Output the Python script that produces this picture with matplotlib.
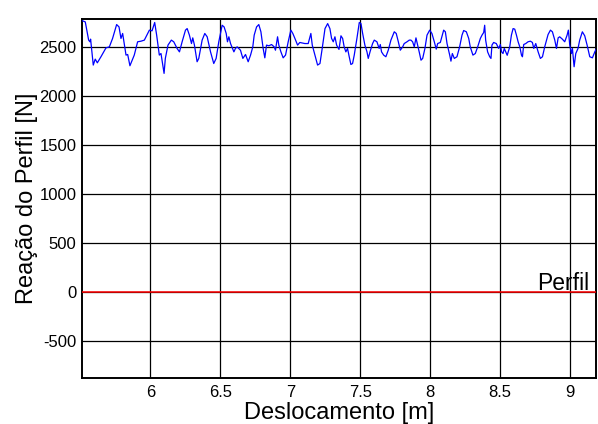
import matplotlib
matplotlib.use("Agg")
import matplotlib.pyplot as plt

plt.rcParams['font.family'] = ['Liberation Sans', 'DejaVu Sans']
plt.rcParams['axes.unicode_minus'] = False

# displacement [m] and profile reaction [N]
deslocamento = [
    5.511, 5.535, 5.559, 5.568, 5.573, 5.582, 5.592, 5.606, 5.621, 5.647,
    5.683, 5.707, 5.730, 5.759, 5.776, 5.790, 5.802, 5.826, 5.838, 5.854,
    5.885, 5.909, 5.933, 5.957, 5.981, 5.993, 6.012, 6.031, 6.045, 6.064,
    6.076, 6.098, 6.107, 6.126, 6.150, 6.167, 6.191, 6.208, 6.227, 6.251,
    6.263, 6.279, 6.294, 6.303, 6.315, 6.334, 6.346, 6.370, 6.389, 6.406,
    6.430, 6.453, 6.470, 6.489, 6.513, 6.527, 6.542, 6.551, 6.561, 6.573,
    6.597, 6.608, 6.620, 6.644, 6.661, 6.680, 6.699, 6.716, 6.732, 6.742,
    6.759, 6.775, 6.790, 6.806, 6.818, 6.830, 6.847, 6.866, 6.885, 6.894,
    6.909, 6.918, 6.933, 6.949, 6.966, 6.985, 7.004, 7.018, 7.033, 7.052,
    7.068, 7.104, 7.128, 7.147, 7.157, 7.176, 7.195, 7.212, 7.228, 7.248,
    7.267, 7.283, 7.295, 7.307, 7.319, 7.331, 7.348, 7.362, 7.374, 7.385,
    7.397, 7.409, 7.421, 7.433, 7.445, 7.457, 7.476, 7.493, 7.505, 7.517,
    7.533, 7.548, 7.557, 7.571, 7.588, 7.600, 7.619, 7.635, 7.643, 7.652,
    7.667, 7.683, 7.700, 7.719, 7.743, 7.757, 7.772, 7.786, 7.803, 7.814,
    7.834, 7.850, 7.862, 7.874, 7.886, 7.898, 7.910, 7.921, 7.934, 7.946,
    7.962, 7.977, 7.996, 8.012, 8.029, 8.043, 8.053, 8.072, 8.096, 8.108,
    8.120, 8.139, 8.148, 8.158, 8.172, 8.191, 8.210, 8.227, 8.239, 8.258,
    8.275, 8.286, 8.305, 8.322, 8.339, 8.358, 8.370, 8.382, 8.389, 8.396,
    8.410, 8.425, 8.434, 8.441, 8.453, 8.472, 8.489, 8.501, 8.510, 8.520,
    8.529, 8.550, 8.568, 8.580, 8.592, 8.604, 8.616, 8.628, 8.640, 8.652,
    8.659, 8.668, 8.683, 8.699, 8.716, 8.730, 8.740, 8.754, 8.771, 8.787,
    8.802, 8.818, 8.842, 8.859, 8.873, 8.890, 8.902, 8.914, 8.925, 8.944,
    8.961, 8.978, 8.987, 8.997, 9.009, 9.016, 9.028, 9.040, 9.056, 9.068,
    9.087, 9.104, 9.121, 9.140, 9.159, 9.176, 9.188,
]
reacao = [
    2775, 2761, 2575, 2558, 2585, 2455, 2320, 2381, 2343, 2405,
    2496, 2506, 2592, 2734, 2710, 2592, 2643, 2422, 2428, 2313,
    2422, 2558, 2564, 2575, 2643, 2677, 2670, 2755, 2626, 2422,
    2438, 2235, 2388, 2524, 2575, 2558, 2490, 2455, 2558, 2677,
    2693, 2626, 2540, 2598, 2524, 2354, 2388, 2575, 2643, 2609,
    2455, 2336, 2388, 2558, 2727, 2710, 2643, 2558, 2609, 2540,
    2455, 2490, 2506, 2472, 2388, 2428, 2354, 2422, 2506, 2626,
    2710, 2734, 2660, 2490, 2394, 2524, 2517, 2530, 2506, 2472,
    2609, 2524, 2455, 2394, 2422, 2558, 2677, 2643, 2592, 2524,
    2551, 2540, 2540, 2643, 2524, 2422, 2320, 2336, 2490, 2693,
    2744, 2693, 2592, 2558, 2609, 2524, 2480, 2619, 2592, 2506,
    2455, 2490, 2405, 2326, 2336, 2422, 2592, 2755, 2744, 2643,
    2524, 2455, 2388, 2462, 2540, 2575, 2558, 2490, 2530, 2455,
    2422, 2405, 2472, 2575, 2660, 2643, 2558, 2472, 2506, 2540,
    2558, 2575, 2575, 2558, 2506, 2598, 2524, 2455, 2370, 2388,
    2490, 2626, 2677, 2643, 2558, 2483, 2540, 2551, 2677, 2660,
    2540, 2422, 2360, 2438, 2388, 2405, 2506, 2626, 2673, 2660,
    2592, 2506, 2422, 2438, 2506, 2592, 2626, 2653, 2727, 2575,
    2455, 2405, 2388, 2524, 2551, 2540, 2490, 2530, 2455, 2438,
    2490, 2420, 2506, 2626, 2693, 2687, 2626, 2558, 2506, 2422,
    2405, 2530, 2540, 2558, 2564, 2551, 2490, 2540, 2455, 2388,
    2405, 2506, 2632, 2677, 2660, 2575, 2490, 2598, 2609, 2585,
    2558, 2626, 2677, 2524, 2438, 2490, 2303, 2438, 2490, 2575,
    2660, 2619, 2524, 2405, 2394, 2455, 2490,
]
perfil_x = [5.511, 9.186]
perfil_y = [0, 0]

x_ticks = [6, 6.5, 7, 7.5, 8, 8.5, 9]
x_labels = ["6", "6.5", "7", "7.5", "8", "8.5", "9"]
y_ticks = [-500, 0, 500, 1000, 1500, 2000, 2500]

fig = plt.figure(figsize=(5.98, 4.24), dpi=100)
ax = fig.add_axes([0.137, 0.108, 0.860, 0.847])

ax.plot(deslocamento, reacao, color='#0000ff', lw=0.9, zorder=3)
ax.plot(perfil_x, perfil_y, color='#ff0000', lw=1.1, zorder=3)
ax.text(9.135, 20, "Perfil", ha='right', va='baseline', fontsize=16.5, zorder=4)

ax.set_xlim(5.511, 9.186)
ax.set_ylim(-880, 2790)
ax.set_xticks(x_ticks)
ax.set_xticklabels(x_labels)
ax.set_yticks(y_ticks)
ax.tick_params(length=0, labelsize=12)
ax.tick_params(axis='x', pad=5)
ax.tick_params(axis='y', pad=4)
ax.grid(True, color='black', lw=0.9)
ax.set_axisbelow(True)
for sp in ax.spines.values():
    sp.set_linewidth(1.4)

ax.set_xlabel("Deslocamento [m]", fontsize=17, labelpad=1)
ax.set_ylabel("Reação do Perfil [N]", fontsize=17, labelpad=1)

fig.savefig("out.png", dpi=100)
